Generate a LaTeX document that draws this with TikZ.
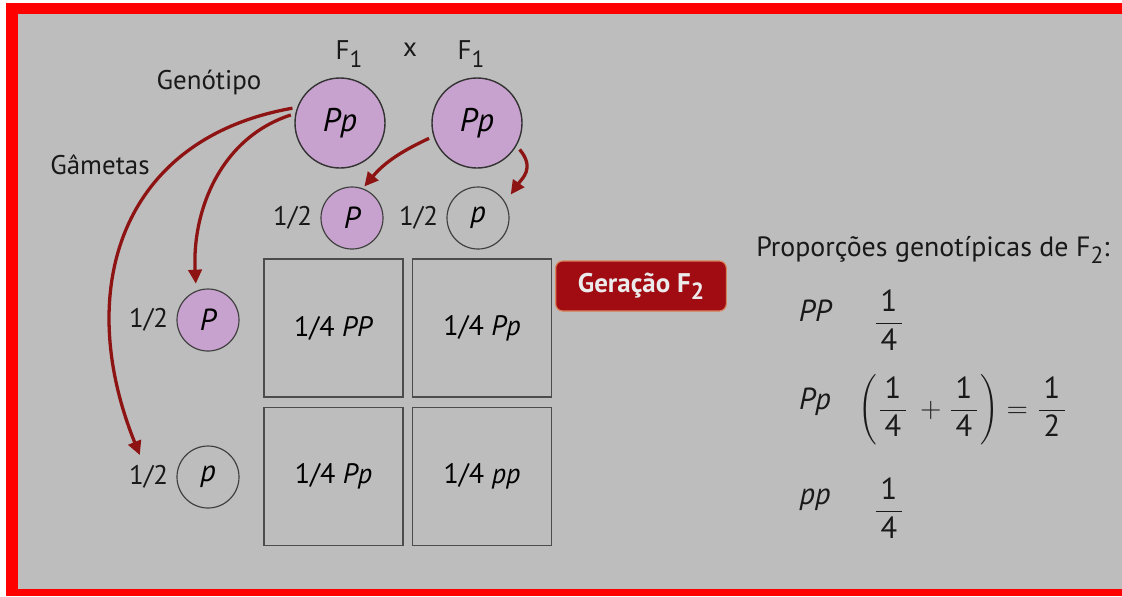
\documentclass[tikz,border=0pt]{standalone}
\usepackage{fontspec}
\setmainfont{PT Sans}
\usetikzlibrary{arrows.meta,positioning}

\definecolor{panelgray}{HTML}{BDBDBD}
\definecolor{framered}{HTML}{FF0000}
\definecolor{arrowred}{HTML}{8E1414}
\definecolor{lilac}{HTML}{C8A2CE}
\definecolor{badgered}{HTML}{A00C12}
\definecolor{badgeedge}{HTML}{D9825A}

% lowered subscript digit in the text font
\newcommand{\subnum}[1]{\raisebox{-0.55ex}{\fontsize{10}{10}\selectfont #1}}
% fraction with text-font digits
\newcommand{\propfrac}[2]{\frac{\mbox{\,#1\,}}{\mbox{\,#2\,}}}

\begin{document}
\begin{tikzpicture}[x=0.015cm, y=-0.015cm,
    txt/.style={font=\fontsize{11.5}{13}\selectfont, text=black!90},
    geno/.style={circle, draw=black!80, line width=0.6pt, fill=lilac, minimum size=1.35cm, inner sep=0pt,
        font=\fontsize{14}{14}\selectfont\itshape},
    gamete/.style={circle, draw=black!75, line width=0.5pt, minimum size=0.93cm, inner sep=0pt,
        font=\fontsize{13}{13}\selectfont\itshape},
    cell/.style={draw=black!70, line width=0.6pt, minimum width=2.085cm, minimum height=2.07cm,
        font=\fontsize{12}{12}\selectfont},
    badge/.style={draw=badgeedge, line width=0.5pt, fill=badgered, rounded corners=3pt,
        minimum width=2.56cm, minimum height=0.75cm, text=black!8, font=\fontsize{11.5}{12}\selectfont\bfseries},
    flow/.style={draw=arrowred, line width=1.4pt, -{Triangle[length=2.1mm,width=2mm]}},
    prop/.style={font=\fontsize{13}{13}\selectfont, text=black!90},
]
    % Page, red frame and grey panel.
    \fill[white] (0,0) rectangle (1122,596);
    \fill[framered] (6,3) rectangle (1122,596);
    \fill[panelgray] (18,14) rectangle (1122,589);
    \useasboundingbox (0,0) rectangle (1122,596);

    % Parental cross.
    \node[txt] (f1a) at (349,54) {F\subnum{1}};
    \node[txt] (cross) at (410,50) {x};
    \node[txt] (f1b) at (471,54) {F\subnum{1}};
    \node[txt] (genotipo) at (209,82) {Genótipo};
    \node[txt] (gametas) at (100,165) {Gâmetas};
    \node[geno] (g1) at (340,123) {Pp};
    \node[geno] (g2) at (477,123) {Pp};

    % Gametes of each parent.
    \node[gamete, fill=lilac] (topP) at (352,218) {P};
    \node[gamete] (topp) at (478,218) {p};
    \node[gamete, fill=lilac] (sideP) at (208,320) {P};
    \node[gamete] (sidep) at (208,477) {p};
    \node[txt, left=0pt of topP] (htopP) {1/2};
    \node[txt, left=0pt of topp] (htopp) {1/2};
    \node[txt, left=0pt of sideP] (hsideP) {1/2};
    \node[txt, left=0pt of sidep] (hsidep) {1/2};

    % Arrows from parents to gametes.
    \draw[flow, shorten <=2pt, shorten >=3pt] (g1.168) to[out=198, in=93] (sideP.112);
    \draw[flow, shorten <=2pt, shorten >=1pt] (g1.160) to[out=190, in=112, looseness=1.2] (hsidep.112);
    \draw[flow, shorten <=2pt, shorten >=1pt] (g2.197) to[out=205, in=50] (topP.70);
    \draw[flow, shorten <=2pt, shorten >=4pt] (g2.330) to[out=-50, in=55, looseness=1.3] (topp.30);

    % Punnett square.
    \node[cell] (c11) at (333.5,328) {1/4 \textit{PP}};
    \node[cell] (c12) at (482,328) {1/4 \textit{Pp}};
    \node[cell] (c21) at (333.5,476.5) {1/4 \textit{Pp}};
    \node[cell] (c22) at (482,476.5) {1/4 \textit{pp}};
    \node[badge] (geracao) at (641,286) {Geração F\subnum{2}};

    % Genotypic proportions of F2.
    \node[txt, anchor=west, font=\fontsize{11.9}{13}\selectfont] (titulo) at (748,250) {Proporções genotípicas de F\subnum{2}:};
    \node[prop, font=\fontsize{13}{13}\selectfont\itshape] (nPP) at (815,311) {PP};
    \node[prop] (vPP) at (889,320) {$\displaystyle\propfrac{1}{4}$};
    \node[prop, font=\fontsize{13}{13}\selectfont\itshape] (nPp) at (815,402) {Pp};
    \node[prop, anchor=west] (vPp) at (850,410)
        {$\displaystyle\left(\propfrac{1}{4}\,+\propfrac{1}{4}\right)=\propfrac{1}{2}$};
    \node[prop, font=\fontsize{13}{13}\selectfont\itshape] (npp) at (815,500) {pp};
    \node[prop] (vpp) at (889,508) {$\displaystyle\propfrac{1}{4}$};
\end{tikzpicture}
\end{document}
